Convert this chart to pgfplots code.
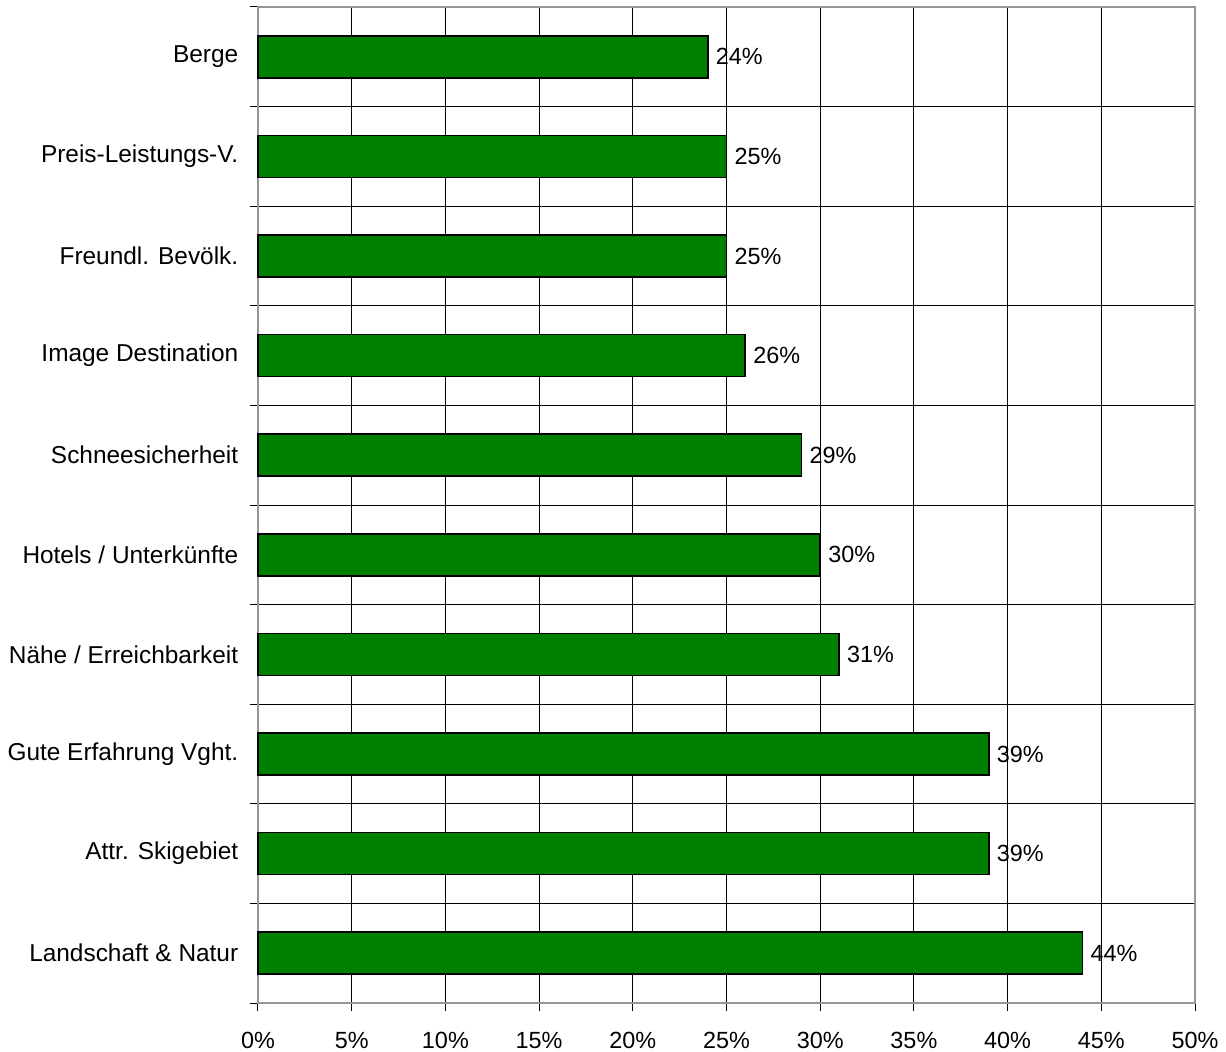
\documentclass[border=0pt]{standalone}
\usepackage{fontspec}
\setmainfont{Liberation Sans}
\usepackage{pgfplots}
\pgfplotsset{compat=1.18}
\definecolor{bargreen}{RGB}{0,128,0}
\definecolor{framegray}{RGB}{150,150,150}
\begin{document}
\begin{tikzpicture}
\begin{axis}[
  scale only axis,
  width=937bp, height=996bp,
  xbar,
  xmin=0, xmax=50,
  ymin=-0.5, ymax=9.5,
  bar width=42bp,
  clip=false,
  /pgf/number format/assume math mode=true,
  xtick pos=bottom, ytick pos=left,
  xtick={0,5,...,50},
  xticklabel={\pgfmathprintnumber{\tick}\%},
  xticklabel style={yshift=-21bp, font=\fontsize{23.5}{27}\selectfont},
  ytick={0,...,9},
  yticklabels={Landschaft \& Natur, Attr. Skigebiet, Gute Erfahrung Vght., Nähe / Erreichbarkeit, Hotels / Unterkünfte, Schneesicherheit, Image Destination, Freundl. Bevölk., Preis-Leistungs-V., Berge},
  yticklabel style={xshift=-12bp, font=\fontsize{24.5}{28}\selectfont},
  minor ytick={-0.5,0.5,...,9.5},
  xtick style={/pgfplots/major tick length=8bp},
  ytick style={/pgfplots/major tick length=0pt},
  minor tick length=8bp,
  tick align=outside,
  xmajorgrids, yminorgrids,
  major grid style={black, line width=1bp},
  minor grid style={black, line width=1bp},
  every tick/.style={black, line width=1bp},
  axis line style={framegray, line width=2bp},
  nodes near coords={\pgfmathprintnumber{\pgfplotspointmeta}\%},
  nodes near coords align={horizontal},
  every node near coord/.append style={anchor=west, xshift=4bp, font=\fontsize{23.5}{27}\selectfont, black},
]
\addplot[fill=bargreen, draw=black, line width=1.5bp] coordinates {
 (44,0) (39,1) (39,2) (31,3) (30,4) (29,5) (26,6) (25,7) (25,8) (24,9)
};
\coordinate (A) at (rel axis cs:0,0);
\coordinate (B) at (rel axis cs:1,1);
\end{axis}
\pgfresetboundingbox
\path ([shift={(-258bp,-48bp)}]A) rectangle ([shift={(31bp,7bp)}]B);
\end{tikzpicture}
\end{document}
